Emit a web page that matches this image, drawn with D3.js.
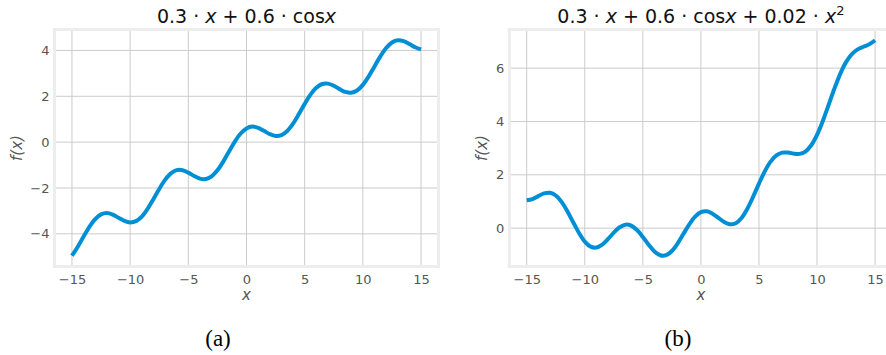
<!DOCTYPE html>
<html>
<head>
<meta charset="utf-8">
<script src="https://cdn.jsdelivr.net/npm/d3@7"></script>
<style>
  html, body { margin: 0; padding: 0; background: #ffffff; }
  svg { display: block; }
</style>
</head>
<body>
<svg id="chart" width="886" height="355"></svg>
<script>
// Sample positions along x (step 0.5)
const xValues = d3.range(-15, 15.001, 0.5);

// Panel (a): f(x) = 0.3·x + 0.6·cos x
const seriesA = [
  -4.956, -4.563, -4.118, -3.693, -3.356, -3.151, -3.094, -3.160, -3.297, -3.435,
  -3.503, -3.448, -3.247, -2.911, -2.487, -2.042, -1.648, -1.364, -1.224, -1.225,
  -1.330, -1.476, -1.592, -1.612, -1.494, -1.231, -0.850, -0.408, 0.024, 0.377,
  0.600, 0.677, 0.624, 0.492, 0.350, 0.269, 0.306, 0.488, 0.808, 1.224,
  1.670, 2.075, 2.376, 2.536, 2.552, 2.458, 2.313, 2.189, 2.153, 2.252,
  2.497, 2.865, 3.303, 3.740, 4.106, 4.349, 4.444, 4.407, 4.282, 4.137,
  4.044
];

// Panel (b)
const seriesB = [
  1.044, 1.092, 1.202, 1.302, 1.324, 1.224, 0.986, 0.635, 0.223, -0.180,
  -0.503, -0.693, -0.727, -0.616, -0.407, -0.167, 0.032, 0.131, 0.096, -0.070,
  -0.330, -0.621, -0.872, -1.017, -1.014, -0.856, -0.570, -0.213, 0.144, 0.432,
  0.600, 0.632, 0.544, 0.387, 0.230, 0.144, 0.186, 0.383, 0.728, 1.179,
  1.670, 2.130, 2.496, 2.731, 2.832, 2.833, 2.793, 2.784, 2.873, 3.107,
  3.497, 4.020, 4.623, 5.235, 5.786, 6.224, 6.524, 6.702, 6.802, 6.892,
  7.044
];

const xTicks = [-15, -10, -5, 0, 5, 10, 15];
const yTicksA = [-4, -2, 0, 2, 4];
const yTicksB = [0, 2, 4, 6];
const captions = ["(a)", "(b)"];

const svg = d3.select("#chart");
const fmt = v => (v < 0 ? "\u2212" + Math.abs(v) : String(v));

const panels = [
  {
    left: 54.5, right: 438.5, top: 29.5, bottom: 266.5,
    yDomain: [-5.426, 4.914], yTicks: yTicksA, values: seriesA,
    titleParts: [["0.3 \u00B7 ", false], ["x", true], [" + 0.6 \u00B7 cos", false], ["x", true]],
    caption: captions[0], captionX: 218, ylabelX: 22
  },
  {
    left: 509.3, right: 892.5, top: 29.5, bottom: 266.5,
    yDomain: [-1.438, 7.448], yTicks: yTicksB, values: seriesB,
    titleParts: [["0.3 \u00B7 ", false], ["x", true], [" + 0.6 \u00B7 cos", false], ["x", true],
                 [" + 0.02 \u00B7 ", false], ["x", true], ["2", false, true]],
    caption: captions[1], captionX: 678, ylabelX: 487
  }
];

panels.forEach(p => {
  const x = d3.scaleLinear().domain([-16.5, 16.5]).range([p.left, p.right]);
  const y = d3.scaleLinear().domain(p.yDomain).range([p.bottom, p.top]);
  const g = svg.append("g");

  // Plot area background
  g.append("rect")
    .attr("x", p.left).attr("y", p.top)
    .attr("width", p.right - p.left).attr("height", p.bottom - p.top)
    .attr("fill", "#ffffff");

  // Grid lines
  g.append("g").selectAll("line").data(xTicks).join("line")
    .attr("x1", d => x(d)).attr("x2", d => x(d))
    .attr("y1", p.top).attr("y2", p.bottom)
    .attr("stroke", "#cbcbcb").attr("stroke-width", 1);
  g.append("g").selectAll("line").data(p.yTicks).join("line")
    .attr("x1", p.left).attr("x2", p.right)
    .attr("y1", d => y(d)).attr("y2", d => y(d))
    .attr("stroke", "#cbcbcb").attr("stroke-width", 1);

  // Frame
  g.append("rect")
    .attr("x", p.left).attr("y", p.top)
    .attr("width", p.right - p.left).attr("height", p.bottom - p.top)
    .attr("fill", "none").attr("stroke", "#ededed").attr("stroke-width", 3);

  // Axes (labels only, no tick marks)
  const xAxis = d3.axisBottom(x).tickValues(xTicks).tickFormat(fmt).tickSize(0).tickPadding(8);
  const yAxis = d3.axisLeft(y).tickValues(p.yTicks).tickFormat(fmt).tickSize(0).tickPadding(5);
  const gx = g.append("g").attr("transform", `translate(0,${p.bottom})`).call(xAxis);
  const gy = g.append("g").attr("transform", `translate(${p.left},0)`).call(yAxis);
  [gx, gy].forEach(a => {
    a.select(".domain").remove();
    a.selectAll("text")
      .attr("font-family", "DejaVu Sans")
      .attr("font-size", 13)
      .attr("fill", "#555555");
  });

  // Curve
  const line = d3.line()
    .x((d, i) => x(xValues[i]))
    .y(d => y(d))
    .curve(d3.curveCatmullRom);
  g.append("path")
    .datum(p.values)
    .attr("d", line)
    .attr("fill", "none")
    .attr("stroke", "#008fd5")
    .attr("stroke-width", 4)
    .attr("stroke-linecap", "butt")
    .attr("stroke-linejoin", "round");

  // Title
  const cx = (p.left + p.right) / 2;
  const title = g.append("text")
    .attr("x", cx).attr("y", 23)
    .attr("text-anchor", "middle")
    .attr("font-family", "DejaVu Sans")
    .attr("font-size", 19)
    .attr("fill", "#111111")
    .attr("xml:space", "preserve");
  p.titleParts.forEach(([t, ital, sup]) => {
    const s = title.append("tspan").text(t);
    if (ital) s.attr("font-style", "italic");
    if (sup) s.attr("font-size", 13).attr("dy", -8);
  });

  // Axis labels
  g.append("text")
    .attr("x", cx).attr("y", 300)
    .attr("text-anchor", "middle")
    .attr("font-family", "DejaVu Sans")
    .attr("font-style", "italic")
    .attr("font-size", 15)
    .attr("fill", "#555555")
    .text("x");
  g.append("text")
    .attr("transform", `translate(${p.ylabelX},${(p.top + p.bottom) / 2}) rotate(-90)`)
    .attr("text-anchor", "middle")
    .attr("font-family", "DejaVu Sans")
    .attr("font-style", "italic")
    .attr("font-size", 15)
    .attr("fill", "#555555")
    .text("f(x)");

  // Caption
  g.append("text")
    .attr("x", p.captionX).attr("y", 346)
    .attr("text-anchor", "middle")
    .attr("font-family", "Liberation Serif")
    .attr("font-size", 23)
    .attr("fill", "#000000")
    .text(p.caption);
});
</script>
</body>
</html>
